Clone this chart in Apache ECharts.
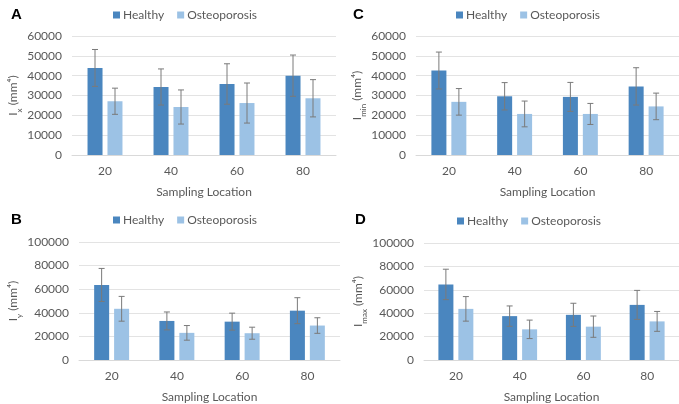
<!DOCTYPE html>
<html>
<head>
<meta charset="utf-8">
<script src="https://cdn.jsdelivr.net/npm/echarts@6/dist/echarts.min.js"></script>
<style>
  html, body { margin: 0; padding: 0; background: #fff; }
  #chart { width: 679px; height: 404px; }
</style>
</head>
<body>
<div id="chart"></div>
<script>
// Sampling locations along the bone
const locations = ['20', '40', '60', '80'];

// Ix (mm^4): mean and standard deviation
const ixHealthy = [43900, 34300, 35800, 40000];
const ixHealthySd = [9300, 9100, 10200, 10400];
const ixOsteo = [27100, 24200, 26200, 28600];
const ixOsteoSd = [6600, 8600, 10100, 9400];

// Iy (mm^4)
const iyHealthy = [63600, 33100, 32500, 41800];
const iyHealthySd = [14000, 7600, 7200, 11000];
const iyOsteo = [43400, 23000, 22700, 29200];
const iyOsteoSd = [10500, 6200, 5100, 6600];

// Imin (mm^4)
const iminHealthy = [42600, 29600, 29300, 34600];
const iminHealthySd = [9300, 6900, 7300, 9400];
const iminOsteo = [26800, 20700, 20700, 24500];
const iminOsteoSd = [6700, 6500, 5300, 6700];

// Imax (mm^4)
const imaxHealthy = [64600, 37500, 38600, 47100];
const imaxHealthySd = [13000, 8700, 9900, 12400];
const imaxOsteo = [43700, 26200, 28500, 33000];
const imaxOsteoSd = [10500, 7900, 9100, 8500];

const seriesNames = ['Healthy', 'Osteoporosis'];
const panelLetters = ['A', 'B', 'C', 'D'];
const axisMax = [60000, 100000, 60000, 100000];
const axisStep = [10000, 20000, 10000, 20000];
const axisSub = ['x', 'y', 'min', 'max'];

const HEALTHY_COLOR = '#4a86bf';
const OSTEO_COLOR = '#9cc2e5';
const TEXT_COLOR = '#595959';
const FONT = 'Lato';
const BAR_W = 15;
const HALF_SHIFT = 10;

const panels = [
  { healthy: ixHealthy, healthySd: ixHealthySd, osteo: ixOsteo, osteoSd: ixOsteoSd },
  { healthy: iyHealthy, healthySd: iyHealthySd, osteo: iyOsteo, osteoSd: iyOsteoSd },
  { healthy: iminHealthy, healthySd: iminHealthySd, osteo: iminOsteo, osteoSd: iminOsteoSd },
  { healthy: imaxHealthy, healthySd: imaxHealthySd, osteo: imaxOsteo, osteoSd: imaxOsteoSd }
];

// Layout of the four panels: A top-left, B bottom-left, C top-right, D bottom-right
const grids = [
  { left: 72, top: 36, width: 264, height: 119 },
  { left: 79, top: 242, width: 261, height: 119 },
  { left: 416, top: 36, width: 266, height: 119 },
  { left: 424, top: 243, width: 259, height: 118 }
];
const legendPos = [
  { left: 113, top: 9 },
  { left: 113, top: 214 },
  { left: 456, top: 9 },
  { left: 457, top: 215 }
];
const letterPos = [
  { left: 11, top: 7 },
  { left: 11, top: 212 },
  { left: 353, top: 7 },
  { left: 355, top: 212 }
];

function errorBarRenderer(shift) {
  return function (params, api) {
    const lo = api.coord([api.value(0), api.value(1)]);
    const hi = api.coord([api.value(0), api.value(2)]);
    const cx = lo[0] + shift;
    const cap = 3;
    const style = { stroke: '#7a7a7a', lineWidth: 1 };
    return {
      type: 'group',
      children: [
        { type: 'line', shape: { x1: cx, y1: lo[1], x2: cx, y2: hi[1] }, style: style },
        { type: 'line', shape: { x1: cx - cap, y1: hi[1], x2: cx + cap, y2: hi[1] }, style: style },
        { type: 'line', shape: { x1: cx - cap, y1: lo[1], x2: cx + cap, y2: lo[1] }, style: style }
      ]
    };
  };
}

const option = {
  animation: false,
  backgroundColor: '#ffffff',
  textStyle: { fontFamily: FONT },
  title: panelLetters.map((t, k) => ({
    text: t,
    left: letterPos[k].left,
    top: letterPos[k].top,
    padding: 0,
    textStyle: { fontFamily: 'Liberation Sans', fontWeight: 'bold', fontSize: 15, color: '#000' }
  })),
  legend: legendPos.map((p, k) => ({
    data: seriesNames,
    left: p.left,
    top: p.top,
    padding: 0,
    icon: 'rect',
    itemWidth: 7,
    itemHeight: 7,
    itemGap: 13,
    textStyle: { fontFamily: FONT, fontSize: 12, color: TEXT_COLOR, padding: [0, 0, 0, -2] },
    selectedMode: false
  })),
  grid: grids.map(g => Object.assign({ containLabel: false }, g)),
  xAxis: grids.map((g, k) => ({
    type: 'category',
    gridIndex: k,
    data: locations,
    name: 'Sampling Location',
    nameLocation: 'middle',
    nameGap: 31,
    nameTextStyle: { fontFamily: FONT, fontSize: 12, color: TEXT_COLOR },
    axisLine: { lineStyle: { color: '#d9d9d9' } },
    axisTick: { show: false },
    axisLabel: { fontFamily: FONT, fontSize: 12, color: TEXT_COLOR, margin: 10 }
  })),
  yAxis: grids.map((g, k) => ({
    type: 'value',
    gridIndex: k,
    min: 0,
    max: axisMax[k],
    interval: axisStep[k],
    name: '{i|I}{s|' + axisSub[k] + '}{i| (mm⁴)}',
    nameLocation: 'middle',
    nameRotate: 90,
    nameGap: k % 2 === 0 ? 44 : 51,
    nameTextStyle: {
      rich: {
        i: { fontFamily: FONT, fontSize: 12, color: TEXT_COLOR, padding: [0, 0, 4, 0] },
        s: { fontFamily: FONT, fontSize: 8, color: TEXT_COLOR, verticalAlign: 'bottom' }
      }
    },
    axisLine: { show: false },
    axisTick: { show: false },
    axisLabel: {
      fontFamily: FONT, fontSize: 12, color: TEXT_COLOR, margin: 10,
      formatter: v => String(v)
    },
    splitLine: { lineStyle: { color: '#e3e3e3' } }
  })),
  series: []
};

panels.forEach((p, k) => {
  option.series.push({
    name: 'Healthy', type: 'bar', xAxisIndex: k, yAxisIndex: k,
    data: p.healthy, barWidth: BAR_W, barGap: '33%',
    itemStyle: { color: HEALTHY_COLOR }
  });
  option.series.push({
    name: 'Osteoporosis', type: 'bar', xAxisIndex: k, yAxisIndex: k,
    data: p.osteo, barWidth: BAR_W, barGap: '33%',
    itemStyle: { color: OSTEO_COLOR }
  });
  option.series.push({
    type: 'custom', xAxisIndex: k, yAxisIndex: k, z: 10,
    renderItem: errorBarRenderer(-HALF_SHIFT),
    encode: { x: 0, y: [1, 2] },
    data: p.healthy.map((m, i) => [i, m - p.healthySd[i], m + p.healthySd[i]])
  });
  option.series.push({
    type: 'custom', xAxisIndex: k, yAxisIndex: k, z: 10,
    renderItem: errorBarRenderer(HALF_SHIFT),
    encode: { x: 0, y: [1, 2] },
    data: p.osteo.map((m, i) => [i, m - p.osteoSd[i], m + p.osteoSd[i]])
  });
});

const chart = echarts.init(document.getElementById('chart'), null, { renderer: 'canvas' });
chart.setOption(option);
</script>
</body>
</html>
